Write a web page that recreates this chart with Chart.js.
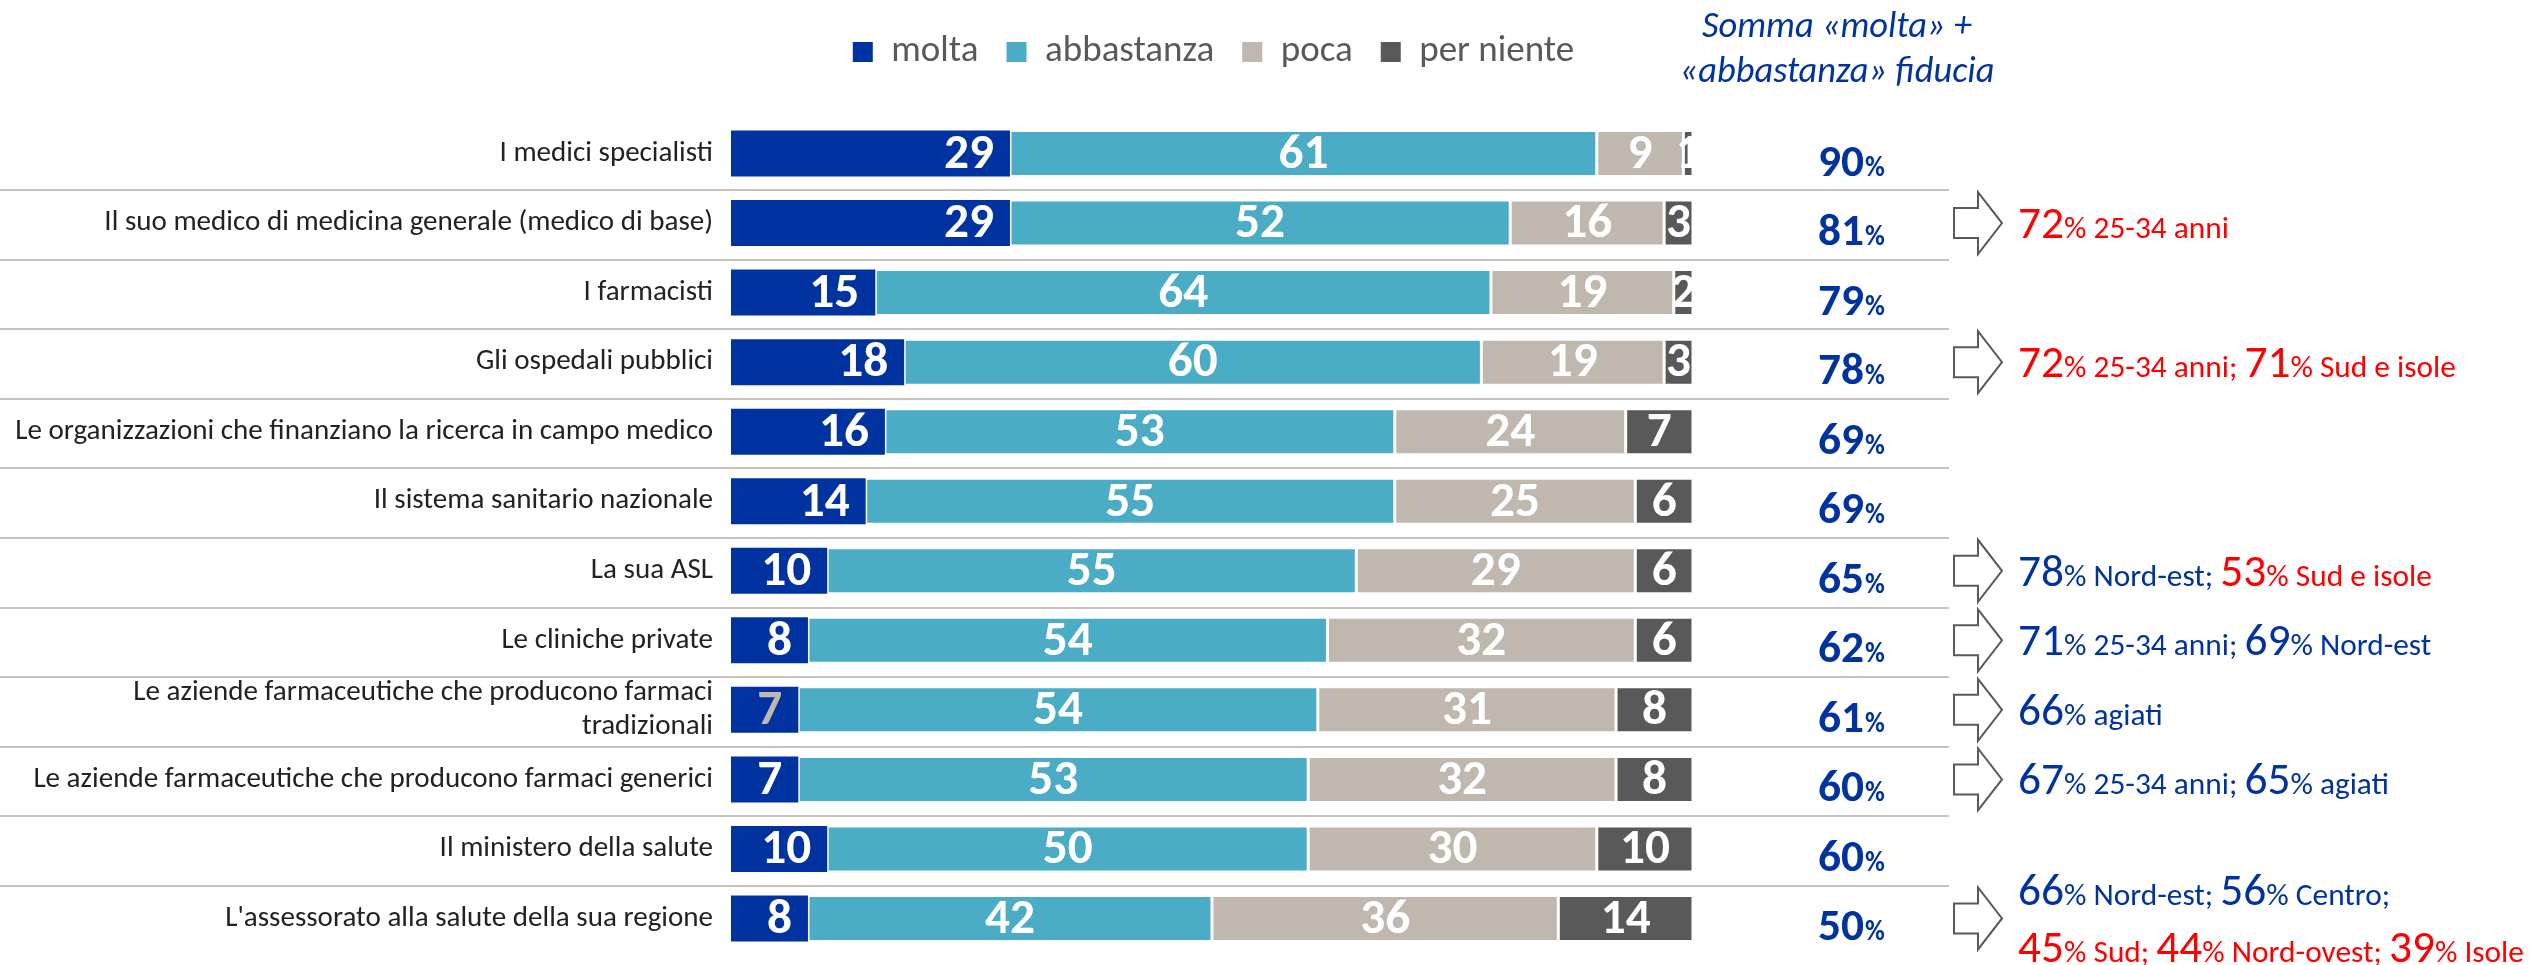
<!DOCTYPE html>
<html><head><meta charset="utf-8">
<script src="https://cdn.jsdelivr.net/npm/chart.js@4.4.1/dist/chart.umd.min.js"></script>
<style>html,body{margin:0;padding:0;background:#fff;overflow:hidden}#wrap{width:2539px;height:965px;position:relative}</style>
</head><body><div id="wrap"><canvas id="c" width="2539" height="965"></canvas></div>
<script>
// ---------------- DATA ----------------
const categories = [
  'I medici specialisti',
  'Il suo medico di medicina generale (medico di base)',
  'I farmacisti',
  'Gli ospedali pubblici',
  'Le organizzazioni che finanziano la ricerca in campo medico',
  'Il sistema sanitario nazionale',
  'La sua ASL',
  'Le cliniche private',
  ['Le aziende farmaceutiche che producono farmaci', 'tradizionali'],
  'Le aziende farmaceutiche che producono farmaci generici',
  'Il ministero della salute',
  "L'assessorato alla salute della sua regione"
];
const seriesNames = ['molta', 'abbastanza', 'poca', 'per niente'];
const molta      = [29, 29, 15, 18, 16, 14, 10,  8,  7,  7, 10,  8];
const abbastanza = [61, 52, 64, 60, 53, 55, 55, 54, 54, 53, 50, 42];
const poca       = [ 9, 16, 19, 19, 24, 25, 29, 32, 31, 32, 30, 36];
const perNiente  = [ 1,  3,  2,  3,  7,  6,  6,  6,  8,  8, 10, 14];
const sommaFiducia = [90, 81, 79, 78, 69, 69, 65, 62, 61, 60, 60, 50];
const sideTitle = ['Somma «molta» +', '«abbastanza» fiducia'];
// notes: per row, list of lines; each line: list of [number, text, colourKey]
const notes = [
  null,
  [[['72', '% 25-34 anni', 'r']]],
  null,
  [[['72', '% 25-34 anni; ', 'r'], ['71', '% Sud e isole', 'r']]],
  null,
  null,
  [[['78', '% Nord-est; ', 'b'], ['53', '% Sud e isole', 'r']]],
  [[['71', '% 25-34 anni; ', 'b'], ['69', '% Nord-est', 'b']]],
  [[['66', '% agiati', 'b']]],
  [[['67', '% 25-34 anni; ', 'b'], ['65', '% agiati', 'b']]],
  null,
  [[['66', '% Nord-est; ', 'b'], ['56', '% Centro;', 'b']],
   [['45', '% Sud; ', 'r'], ['44', '% Nord-ovest; ', 'r'], ['39', '% Isole', 'r']]]
];

// ---------------- STYLE / LAYOUT ----------------
const W = 2539, H = 965;
const COLORS = ['#0033A0', '#4BACC6', '#C0B7AF', '#595959'];
const BLUE = '#0033A0', RED = '#FF0000';
const X_LEFT = 731, X_100 = 1693, LEGEND_RIGHT_PAD = 112;
const AREA_TOP = 118.75, AREA_BOTTOM = 953.25, LEGEND_TOP = 5.5;
const SEP_RIGHT = 1949;
const PCT_CX = 1851;
const ARROW_X = 1954, NOTE_X = 2018;
const TITLE_CX = 1837;

const mctx = document.createElement('canvas').getContext('2d');
function has(fam) {
  const t = 'abcdefghijklmnopqrstuvwxyz ABCDEFG 0123456789';
  let diff = false;
  for (const base of ['monospace', 'serif']) {
    mctx.font = '40px ' + base; const a = mctx.measureText(t).width;
    mctx.font = '40px "' + fam + '", ' + base; const b = mctx.measureText(t).width;
    if (Math.abs(a - b) > 0.5) diff = true;
  }
  return diff;
}
const NARROW = ['Carlito', 'Liberation Sans Narrow', 'Arial Narrow', 'DejaVu Sans Condensed', 'Roboto Condensed'].find(has) || 'Roboto';
function fit(style, weight, text, targetW, min, max) {
  mctx.font = style + ' ' + weight + ' 100px "' + NARROW + '"';
  const w = mctx.measureText(text).width;
  return Math.max(min, Math.min(max, 100 * targetW / w));
}
const catSize = fit('normal', 'normal', 'Le organizzazioni che finanziano la ricerca in campo medico', 698, 22, 31);
const valSize = fit('normal', 'bold', '61', 50, 38, 52);
const pctBig = fit('normal', 'bold', '90', 46, 38, 48);
const pctSmall = pctBig * 0.6;
const legSize = fit('normal', 'normal', 'per niente', 155, 26, 38);
const noteBig = fit('normal', 'normal', '72', 46, 36, 48);
const noteSmall = fit('normal', 'normal', '% 25-34 anni', 165, 24, 32);
const titleSize = fit('italic', 'normal', '«abbastanza» fiducia', 315, 26, 40);
const font = (style, weight, size) => style + ' ' + weight + ' ' + size + 'px "' + NARROW + '", sans-serif';

const xMax = 100 * (W - LEGEND_RIGHT_PAD - X_LEFT) / (X_100 - X_LEFT);
const seriesData = [molta, abbastanza, poca, perNiente];
let adjTop = 0;

const overlay = {
  id: 'overlay',
  beforeDatasetsDraw(chart) {
    const {ctx} = chart; const ys = chart.scales.y;
    ctx.save();
    ctx.strokeStyle = '#CAC3BB'; ctx.lineWidth = 2;
    for (let j = 0; j < categories.length - 1; j++) {
      const y = Math.round((ys.getPixelForValue(j) + ys.getPixelForValue(j + 1)) / 2 + 2);
      ctx.beginPath(); ctx.moveTo(0, y); ctx.lineTo(SEP_RIGHT, y); ctx.stroke();
    }
    ctx.restore();
  },
  afterDatasetsDraw(chart) {
    const {ctx} = chart; const ys = chart.scales.y;
    ctx.save();
    // value labels inside segments
    ctx.textBaseline = 'middle';
    ctx.font = font('normal', 'bold', valSize);
    chart.data.datasets.forEach((ds, i) => {
      chart.getDatasetMeta(i).data.forEach((el, j) => {
        ctx.fillStyle = (i === 0 && j === 8) ? COLORS[2] : '#FFFFFF';
        if (i === 0) {
          ctx.textAlign = 'right';
          ctx.fillText(String(ds.data[j]), el.x - 16, el.y + 2);
        } else {
          ctx.textAlign = 'center';
          ctx.fillText(String(ds.data[j]), (el.x + el.base) / 2, el.y + 2);
        }
      });
    });
    // "Somma" column
    ctx.textBaseline = 'alphabetic'; ctx.textAlign = 'left'; ctx.fillStyle = BLUE;
    sommaFiducia.forEach((v, j) => {
      const y = ys.getPixelForValue(j) + 22;
      ctx.font = font('normal', 'bold', pctBig); const w1 = ctx.measureText(String(v)).width;
      ctx.font = font('normal', 'bold', pctSmall); const w2 = ctx.measureText('%').width;
      const x0 = PCT_CX - (w1 + w2) / 2;
      ctx.font = font('normal', 'bold', pctBig); ctx.fillText(String(v), x0, y);
      ctx.font = font('normal', 'bold', pctSmall); ctx.fillText('%', x0 + w1 + 1, y);
    });
    // arrows and notes
    notes.forEach((lines, j) => {
      if (!lines) return;
      const cy = ys.getPixelForValue(j);
      ctx.beginPath();
      ctx.moveTo(ARROW_X, cy - 15);
      ctx.lineTo(ARROW_X + 24, cy - 15);
      ctx.lineTo(ARROW_X + 24, cy - 31);
      ctx.lineTo(ARROW_X + 48, cy);
      ctx.lineTo(ARROW_X + 24, cy + 31);
      ctx.lineTo(ARROW_X + 24, cy + 15);
      ctx.lineTo(ARROW_X, cy + 15);
      ctx.closePath();
      ctx.fillStyle = '#FFFFFF'; ctx.fill();
      ctx.strokeStyle = '#595959'; ctx.lineWidth = 2; ctx.stroke();
      const baselines = lines.length === 1 ? [cy + 15] : [cy - 13, cy + 44];
      lines.forEach((segs, li) => {
        let x = NOTE_X; const y = baselines[li];
        segs.forEach(([num, txt, c]) => {
          ctx.fillStyle = c === 'r' ? RED : BLUE;
          ctx.font = font('normal', 'normal', noteBig); ctx.fillText(num, x, y); x += ctx.measureText(num).width;
          ctx.font = font('normal', 'normal', noteSmall); ctx.fillText(txt, x, y); x += ctx.measureText(txt).width;
        });
      });
    });
    // side title
    ctx.fillStyle = BLUE; ctx.textAlign = 'center';
    ctx.font = font('italic', 'normal', titleSize);
    ctx.fillText(sideTitle[0], TITLE_CX, 37);
    ctx.fillText(sideTitle[1], TITLE_CX, 82);
    ctx.restore();
  }
};

const chart = new Chart(document.getElementById('c'), {
  type: 'bar',
  data: {
    labels: categories,
    datasets: seriesNames.map((name, i) => ({
      label: name,
      data: seriesData[i],
      backgroundColor: COLORS[i],
      borderColor: '#FFFFFF',
      borderWidth: i === 0 ? 0 : 1.5,
      borderSkipped: false,
      categoryPercentage: 1,
      barPercentage: 0.662
    }))
  },
  options: {
    indexAxis: 'y',
    responsive: false,
    animation: false,
    devicePixelRatio: 1,
    layout: {padding: {left: 0, right: LEGEND_RIGHT_PAD, top: LEGEND_TOP, bottom: H - AREA_BOTTOM}},
    plugins: {
      legend: {
        position: 'top',
        labels: {
          boxWidth: 20, boxHeight: 20, padding: 28, color: '#595959',
          font: {family: NARROW, size: legSize},
          generateLabels: (c) => Chart.defaults.plugins.legend.labels.generateLabels(c)
            .map(l => Object.assign(l, {lineWidth: 0, strokeStyle: 'rgba(0,0,0,0)'}))
        }
      },
      tooltip: {enabled: false}
    },
    scales: {
      x: {
        stacked: true, min: 0, max: xMax, position: 'top',
        grid: {display: false, drawTicks: false}, border: {display: false},
        ticks: {display: false},
        afterFit: (s) => {
          s.paddingLeft = 0; s.paddingRight = 0;
          s.height = Math.max(0, AREA_TOP - LEGEND_TOP - s.chart.legend.height + adjTop);
        }
      },
      y: {
        stacked: true,
        grid: {display: false, drawTicks: false}, border: {display: false},
        ticks: {autoSkip: false, padding: 18, color: '#222222',
          font: {family: NARROW, size: catSize, lineHeight: 34 / catSize}},
        afterFit: (s) => { s.width = X_LEFT; s.paddingTop = 0; s.paddingBottom = 0; }
      }
    }
  },
  plugins: [overlay]
});
// fine-tune the plot area so the rows land where the reference has them
for (let k = 0; k < 3; k++) {
  const ca = chart.chartArea;
  const dt = AREA_TOP - ca.top, db = ca.bottom - AREA_BOTTOM;
  if (Math.abs(dt) < 0.2 && Math.abs(db) < 0.2) break;
  adjTop += dt;
  chart.options.layout.padding.bottom = Math.max(0, chart.options.layout.padding.bottom + db);
  chart.update();
}
</script></body></html>
